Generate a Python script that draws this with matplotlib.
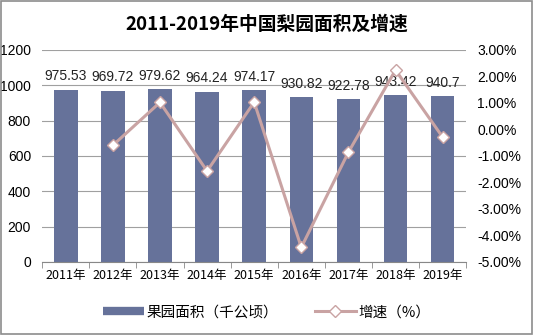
import matplotlib.pyplot as plt
import numpy as np
from matplotlib.patches import Rectangle
from matplotlib.lines import Line2D

plt.rcParams['font.family'] = ['Noto Sans CJK SC', 'DejaVu Sans']

years = ['2011年', '2012年', '2013年', '2014年', '2015年', '2016年', '2017年', '2018年', '2019年']
area = [975.53, 969.72, 979.62, 964.24, 974.17, 930.82, 922.78, 943.42, 940.7]
growth = [None, -0.60, 1.02, -1.57, 1.03, -4.45, -0.86, 2.24, -0.29]
area_labels = ['975.53', '969.72', '979.62', '964.24', '974.17', '930.82', '922.78', '943.42', '940.7']

num_font = 'Liberation Sans'
bar_color = '#66729a'
line_color = '#c9a3a3'

fig = plt.figure(figsize=(5.34, 3.35), dpi=100)
fig.patches.append(Rectangle((0.002, 0.003), 0.995, 0.994, transform=fig.transFigure,
                             fill=False, edgecolor='#8c8c8c', linewidth=1.2))
ax = fig.add_axes([0.079, 0.218, 0.794, 0.633])
x = np.arange(len(years))

ax.bar(x, area, width=0.5, color=bar_color, zorder=2)
for i, v in enumerate(area):
    ax.text(x[i], v + 35, area_labels[i], ha='center', va='bottom', fontsize=10,
            family=num_font, color='#222222', zorder=5)

ax.set_ylim(0, 1200)
ax.set_yticks(np.arange(0, 1201, 200))
ax.set_xlim(-0.5, len(years) - 0.5)
ax.set_xticks(x)
ax.set_xticklabels(years, fontsize=9)
ax.set_xticks(np.arange(-0.5, len(years), 1), minor=True)
ax.tick_params(axis='x', which='major', length=0, pad=5)
ax.tick_params(axis='x', which='minor', length=4, color='#888888')
ax.tick_params(axis='y', length=0, labelsize=10, pad=8)
ax.grid(axis='y', color='#a0a0a0', linewidth=0.8, zorder=0)
for s in ['top', 'right', 'left']:
    ax.spines[s].set_visible(False)
ax.spines['bottom'].set_color('#888888')
for lbl in ax.get_yticklabels():
    lbl.set_family(num_font)

ax2 = ax.twinx()
gx = [x[i] for i in range(len(years)) if growth[i] is not None]
gy = [g for g in growth if g is not None]
ax2.plot(gx, gy, color=line_color, linewidth=2.2, marker='D', markersize=6,
         markerfacecolor='white', markeredgecolor=line_color, markeredgewidth=1, zorder=4)
ax2.set_ylim(-5, 3)
ax2.set_yticks(np.arange(-5, 3.1, 1))
ax2.set_yticklabels(['%.2f%%' % v for v in np.arange(-5, 3.1, 1)], fontsize=10, family=num_font)
ax2.tick_params(axis='y', length=0, pad=8)
for s in ['top', 'right', 'left', 'bottom']:
    ax2.spines[s].set_visible(False)

fig.suptitle('2011-2019年中国梨园面积及增速', y=0.955, fontsize=13.5, fontweight='bold')

handles = [Line2D([], [], color=bar_color, linewidth=6, solid_capstyle='butt'),
           Line2D([], [], color=line_color, linewidth=2.2, marker='D', markersize=6,
                  markerfacecolor='white', markeredgecolor=line_color)]
fig.legend(handles, ['果园面积（千公顷）', '增速（%）'], loc='center',
           bbox_to_anchor=(0.5, 0.068), ncol=2, frameon=False, fontsize=10.5,
           handlelength=2.8, handletextpad=0.2, columnspacing=2.5)

plt.savefig('out.png', dpi=100)
